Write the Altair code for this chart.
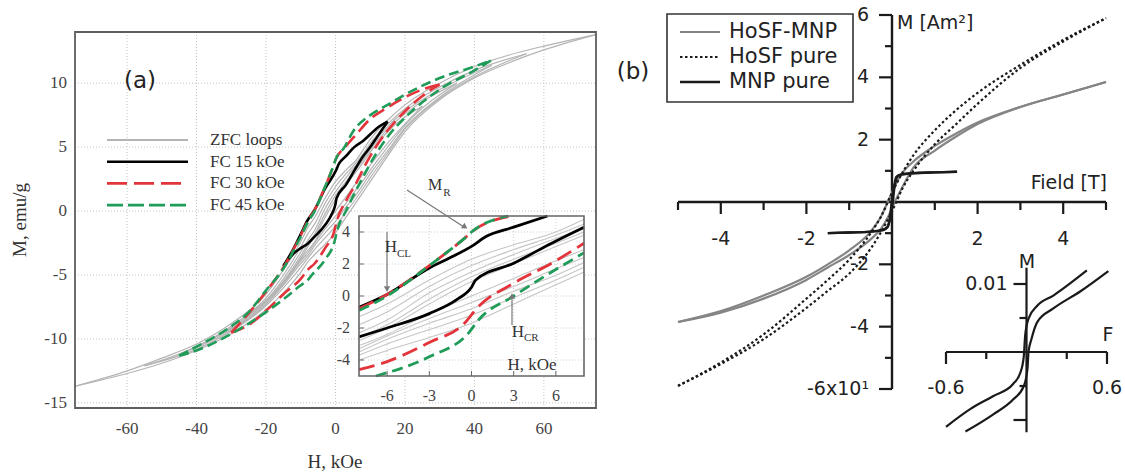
import altair as alt
import pandas as pd

SERIF = "Liberation Serif"
SANS = "DejaVu Sans"

# ---------------- panel (a): H (kOe) vs M (emu/g) ----------------
SERIES_A = ["ZFC loops", "FC 15 kOe", "FC 30 kOe", "FC 45 kOe"]
A_X_DOMAIN = [-75, 75]
A_Y_DOMAIN = [-15.4, 14]
A_X_TICKS = [-60, -40, -20, 0, 20, 40, 60]
A_Y_TICKS = [-15, -10, -5, 0, 5, 10]
A_IN_X_DOMAIN = [-8, 8]
A_IN_Y_DOMAIN = [-5, 5]
A_IN_X_TICKS = [-6, -3, 0, 3, 6]
A_IN_Y_TICKS = [-4, -2, 0, 2, 4]

# ZFC loops (gray): field grid, descending (upper) and ascending (lower) branches
ZFC75_H = [-75, -60, -50, -40, -30, -20, -15, -10, -8, -6, -3, 0, 3, 6, 8, 10, 15, 20, 30, 40, 50, 60, 75]
ZFC75_UP = [-13.7, -12.5, -11.5, -10.4, -8.8, -6.5, -4.6, -2.4, -1.3, -0.5, 1.0, 2.3, 3.2, 4.0, 4.8, 5.6, 7.1, 8.3, 10.0, 11.3, 12.2, 12.9, 13.8]
ZFC75_LO = [-13.7, -12.7, -11.9, -10.9, -9.6, -7.7, -6.4, -4.8, -4.0, -3.4, -2.6, -1.7, -0.5, 0.7, 1.5, 2.3, 4.3, 6.2, 8.7, 10.4, 11.6, 12.6, 13.8]

ZFC55_H = [-55, -40, -30, -20, -15, -10, -8, -6, -3, 0, 3, 6, 8, 10, 15, 20, 30, 40, 55]
ZFC55_UP = [-12.1, -10.6, -9.0, -6.8, -5.0, -2.8, -1.8, -1.0, 0.6, 1.9, 2.9, 3.8, 4.5, 5.3, 6.8, 8.0, 9.7, 11.0, 12.3]
ZFC55_LO = [-12.1, -10.8, -9.4, -7.4, -6.0, -4.4, -3.7, -3.0, -2.1, -1.2, -0.1, 1.0, 1.8, 2.6, 4.5, 6.4, 8.8, 10.5, 12.3]

ZFC45_H = [-45, -30, -20, -15, -10, -8, -6, -3, 0, 3, 6, 8, 10, 15, 20, 30, 45]
ZFC45_UP = [-11.2, -9.1, -7.0, -5.3, -3.2, -2.3, -1.5, 0.2, 1.5, 2.6, 3.6, 4.2, 5.0, 6.6, 7.8, 9.5, 11.4]
ZFC45_LO = [-11.2, -9.3, -7.3, -5.8, -4.1, -3.5, -2.7, -1.7, -0.8, 0.3, 1.3, 2.1, 2.9, 4.7, 6.5, 8.9, 11.4]

ZFC35_H = [-35, -20, -15, -10, -8, -6, -3, 0, 3, 6, 8, 10, 15, 20, 35]
ZFC35_UP = [-9.9, -7.1, -5.5, -3.5, -2.6, -1.8, -0.2, 1.2, 2.3, 3.3, 4.0, 4.8, 6.4, 7.6, 10.0]
ZFC35_LO = [-9.9, -7.25, -5.7, -3.9, -3.3, -2.5, -1.4, -0.4, 0.6, 1.7, 2.4, 3.2, 5.0, 6.7, 10.0]

ZFC25_H = [-25, -15, -10, -8, -6, -3, 0, 3, 6, 8, 10, 15, 25]
ZFC25_UP = [-8.15, -5.55, -3.7, -2.8, -2.0, -0.5, 0.9, 2.0, 3.1, 3.8, 4.6, 6.2, 8.2]
ZFC25_LO = [-8.15, -5.65, -3.8, -3.1, -2.4, -1.1, 0.0, 1.1, 2.2, 2.9, 3.6, 5.3, 8.2]

# FC 15 kOe (black)
FC15_UP_H = [-15, -12, -10, -8, -6, -3, -1.5, 0, 1, 3, 5.4, 8, 10, 12, 15]
FC15_UP_M = [-4.3, -2.9, -1.8, -0.7, 0.1, 1.75, 2.4, 3.1, 3.7, 4.3, 5.0, 5.5, 6.0, 6.5, 7.0]
FC15_LO_H = [-15, -12, -10, -8, -6, -3, -1, 0, 0.3, 3, 5.7, 8, 10, 12, 15]
FC15_LO_M = [-4.3, -3.3, -2.9, -2.55, -2.0, -1.1, -0.2, 0.55, 1.0, 2.05, 3.3, 4.3, 5.0, 5.8, 7.0]

# FC 30 kOe (red dashed)
FC30_UP_H = [-30, -25, -20, -15, -10, -8, -6, -3, -1.5, -0.5, 0, 2.8, 6, 10, 15, 20, 25, 30]
FC30_UP_M = [-9.5, -8.0, -6.3, -4.4, -1.9, -0.8, 0.1, 1.9, 2.9, 3.6, 4.0, 5.0, 6.0, 7.2, 8.1, 8.9, 9.5, 9.9]
FC30_LO_H = [-30, -25, -20, -15, -10, -8, -6, -3, -0.5, 0.4, 3, 5.7, 8, 10, 15, 20, 25, 30]
FC30_LO_M = [-9.5, -8.9, -7.8, -6.5, -5.3, -4.6, -4.1, -2.9, -1.7, -0.75, 0.8, 2.05, 3.3, 4.3, 6.3, 7.8, 9.0, 9.9]

# FC 45 kOe (green dashed)
FC45_UP_H = [-45, -40, -30, -25, -20, -15, -10, -8, -6, -3, -1.5, -0.5, 0, 2.6, 5, 10, 15, 20, 30, 40, 45]
FC45_UP_M = [-11.3, -10.6, -9.0, -7.9, -6.2, -4.5, -2.0, -0.9, 0.0, 1.9, 2.9, 3.6, 4.0, 5.0, 6.2, 7.5, 8.3, 9.1, 10.4, 11.3, 11.8]
FC45_LO_H = [-45, -40, -30, -20, -15, -10, -8, -6.8, -3, -0.2, 0.5, 3, 5.7, 8, 10, 15, 20, 30, 40, 45]
FC45_LO_M = [-11.3, -10.9, -9.6, -7.9, -6.9, -5.8, -5.4, -5.0, -3.8, -2.3, -1.5, 0.0, 1.5, 2.7, 3.7, 5.8, 7.3, 9.5, 11.0, 11.8]

# ---------------- panel (b): Field (T) vs M (Am^2) ----------------
SERIES_B = ["HoSF-MNP", "HoSF pure", "MNP pure"]
B_X_DOMAIN = [-5, 5]
B_Y_DOMAIN = [-6, 6]
B_X_MAJOR = [-4, -2, 2, 4]
B_X_MAJOR_LAB = ["-4", "-2", "2", "4"]
B_X_MINOR = [-5, -3, -1, 1, 3, 5]
B_Y_MAJOR = [-6, -4, -2, 2, 4, 6]
B_Y_MAJOR_LAB = ["-6x10\u00b9", "-4", "-2", "2", "4", "6"]
B_Y_MINOR = [-5, -3, -1, 1, 3, 5]

HOSFMNP_H = [-5, -4, -3, -2, -1.5, -1, -0.5, -0.25, -0.1, 0, 0.1, 0.25, 0.5, 1, 1.5, 2, 3, 4, 5]
HOSFMNP_UP = [-3.85, -3.5, -3.0, -2.4, -2.0, -1.55, -0.95, -0.45, 0.0, 0.3, 0.6, 0.95, 1.3, 1.8, 2.2, 2.55, 3.05, 3.45, 3.85]
HOSFMNP_LO = [-3.85, -3.55, -3.1, -2.5, -2.1, -1.7, -1.2, -0.85, -0.5, -0.2, 0.1, 0.5, 1.1, 1.65, 2.1, 2.5, 3.05, 3.45, 3.85]

HOSF_H = [-5, -4, -3, -2, -1.5, -1, -0.5, -0.25, 0, 0.25, 0.5, 1, 1.5, 2, 3, 4, 5]
HOSF_UP = [-5.9, -5.15, -4.25, -3.1, -2.5, -1.85, -1.0, -0.45, 0.3, 0.95, 1.5, 2.3, 2.95, 3.5, 4.4, 5.2, 5.9]
HOSF_LO = [-5.9, -5.2, -4.4, -3.4, -2.85, -2.3, -1.5, -0.95, -0.3, 0.45, 1.0, 1.85, 2.5, 3.15, 4.3, 5.15, 5.9]

MNP_UP_H = [-1.5, -1.0, -0.5, -0.25, -0.12, -0.06, -0.03, 0.0, 0.05, 0.1, 0.2, 0.5, 1.0, 1.52]
MNP_UP_M = [-1.0, -0.98, -0.95, -0.9, -0.82, -0.6, -0.3, 0.1, 0.5, 0.8, 0.88, 0.92, 0.95, 0.97]
MNP_LO_H = [-1.5, -1.0, -0.5, -0.2, -0.1, -0.04, 0.02, 0.05, 0.08, 0.15, 0.3, 0.6, 1.0, 1.52]
MNP_LO_M = [-1.0, -0.98, -0.95, -0.9, -0.8, -0.5, 0.0, 0.4, 0.65, 0.85, 0.9, 0.93, 0.95, 0.97]

# inset (b): low-field loop
BI_X_DOMAIN = [-0.6, 0.6]
BI_Y_DOMAIN = [-0.01, 0.01]
BI_X_MAJOR = [-0.6, 0.6]
BI_X_MAJOR_LAB = ["-0.6", "0.6"]
BI_X_MINOR = [-0.3, 0.3]
BI_Y_MAJOR = [-0.01, 0.01]
BI_Y_MINOR = [-0.005, 0.005]
BI_Y_LAB_VAL = [0.01]
BI_Y_LAB = ["0.01"]
BI_YAXIS_EXTENT = [-0.0118, 0.0124]
BI_LEFT_F = [-0.6, -0.42, -0.25, -0.10, -0.045, -0.02, -0.01, 0.015, 0.08, 0.20, 0.45]
BI_LEFT_M = [-0.0110, -0.0084, -0.0065, -0.0047, -0.0030, -0.0006, 0.0024, 0.0049, 0.0068, 0.0083, 0.0120]
BI_RIGHT_F = [-0.455, -0.25, -0.10, -0.02, 0.007, 0.015, 0.037, 0.08, 0.20, 0.40, 0.61]
BI_RIGHT_M = [-0.0117, -0.0092, -0.0070, -0.0050, -0.0025, 0.0, 0.0019, 0.0044, 0.0064, 0.0089, 0.0119]

# ---------------- scales (panel placement on the 1125x474 canvas) ----------------
def S(dom, rng):
    return alt.Scale(domain=dom, range=rng, nice=False, zero=False)

XA = S(A_X_DOMAIN, [75, 596])
YA = S(A_Y_DOMAIN, [408, 32])
XI = S(A_IN_X_DOMAIN, [359, 584])
YI = S(A_IN_Y_DOMAIN, [376, 216])
XB = S(B_X_DOMAIN, [678, 1106])
YB = S(B_Y_DOMAIN, [389, 15])
XJ = S(BI_X_DOMAIN, [946, 1107])
YJ = S(BI_Y_DOMAIN, [420, 284])


def X(f, sc):
    return alt.X(f, type="quantitative", scale=sc, axis=None)


def Y(f, sc):
    return alt.Y(f, type="quantitative", scale=sc, axis=None)


def br(name, H, M):
    return pd.DataFrame({"H": H, "M": M, "id": name})


gray_df = pd.concat([
    br("z75u", ZFC75_H, ZFC75_UP), br("z75l", ZFC75_H, ZFC75_LO),
    br("z55u", ZFC55_H, ZFC55_UP), br("z55l", ZFC55_H, ZFC55_LO),
    br("z45u", ZFC45_H, ZFC45_UP), br("z45l", ZFC45_H, ZFC45_LO),
    br("z35u", ZFC35_H, ZFC35_UP), br("z35l", ZFC35_H, ZFC35_LO),
    br("z25u", ZFC25_H, ZFC25_UP), br("z25l", ZFC25_H, ZFC25_LO),
], ignore_index=True)
fc15_df = pd.concat([br("u", FC15_UP_H, FC15_UP_M), br("l", FC15_LO_H, FC15_LO_M)], ignore_index=True)
fc30_df = pd.concat([br("u", FC30_UP_H, FC30_UP_M), br("l", FC30_LO_H, FC30_LO_M)], ignore_index=True)
fc45_df = pd.concat([br("u", FC45_UP_H, FC45_UP_M), br("l", FC45_LO_H, FC45_LO_M)], ignore_index=True)

hm_df = pd.concat([br("u", HOSFMNP_H, HOSFMNP_UP), br("l", HOSFMNP_H, HOSFMNP_LO)], ignore_index=True)
hs_df = pd.concat([br("u", HOSF_H, HOSF_UP), br("l", HOSF_H, HOSF_LO)], ignore_index=True)
mn_df = pd.concat([br("u", MNP_UP_H, MNP_UP_M), br("l", MNP_LO_H, MNP_LO_M)], ignore_index=True)
bi_df = pd.concat([br("left", BI_LEFT_F, BI_LEFT_M), br("right", BI_RIGHT_F, BI_RIGHT_M)], ignore_index=True)

RED = "#e3343c"
GREEN = "#1f9c58"
GRAY = "#b4b4b4"
STYLE_A = {
    "ZFC loops": dict(color=GRAY, strokeWidth=1.2),
    "FC 15 kOe": dict(color="black", strokeWidth=2.6),
    "FC 30 kOe": dict(color=RED, strokeWidth=2.6, strokeDash=[14, 6]),
    "FC 45 kOe": dict(color=GREEN, strokeWidth=2.6, strokeDash=[10, 5]),
}


def curves(df, sx, sy, style, flt=None):
    c = alt.Chart(df)
    if flt:
        c = c.transform_filter(flt)
    return c.mark_line(interpolate="monotone", **style).encode(x=X("H", sx), y=Y("M", sy), detail="id:N")


# ---------------- panel (a) main ----------------
gridA_v = alt.Chart(pd.DataFrame({"v": A_X_TICKS, "lo": A_Y_DOMAIN[0], "hi": A_Y_DOMAIN[1]})).mark_rule(
    color="#c4c4c4", strokeDash=[1, 2], strokeWidth=1).encode(x=X("v", XA), y=Y("lo", YA), y2="hi")
gridA_h = alt.Chart(pd.DataFrame({"v": A_Y_TICKS, "lo": A_X_DOMAIN[0], "hi": A_X_DOMAIN[1]})).mark_rule(
    color="#c4c4c4", strokeDash=[1, 2], strokeWidth=1).encode(y=Y("v", YA), x=X("lo", XA), x2="hi")
frameA = alt.Chart(pd.DataFrame({"x0": [A_X_DOMAIN[0]], "x1": [A_X_DOMAIN[1]], "y0": [A_Y_DOMAIN[0]], "y1": [A_Y_DOMAIN[1]]})).mark_rect(
    fill="transparent", stroke="#5e5e5e", strokeWidth=1.8).encode(x=X("x0", XA), x2="x1", y=Y("y0", YA), y2="y1")
ylabA = alt.Chart(pd.DataFrame({"v": A_Y_TICKS, "lab": [str(v) for v in A_Y_TICKS], "x": A_X_DOMAIN[0]})).mark_text(
    align="right", baseline="middle", dx=-8, font=SERIF, fontSize=17, color="#444").encode(
    x=X("x", XA), y=Y("v", YA), text="lab:N")
xlabA = alt.Chart(pd.DataFrame({"v": A_X_TICKS, "lab": [str(v) for v in A_X_TICKS], "y": A_Y_DOMAIN[0]})).mark_text(
    align="center", baseline="middle", dy=21, font=SERIF, fontSize=17, color="#444").encode(
    x=X("v", XA), y=Y("y", YA), text="lab:N")

panelA = alt.layer(
    gridA_v, gridA_h,
    curves(gray_df, XA, YA, STYLE_A["ZFC loops"]),
    curves(fc15_df, XA, YA, STYLE_A["FC 15 kOe"]),
    curves(fc30_df, XA, YA, STYLE_A["FC 30 kOe"]),
    curves(fc45_df, XA, YA, STYLE_A["FC 45 kOe"]),
    frameA, ylabA, xlabA,
)

# ---------------- panel (a) inset ----------------
IN_FILTER = "datum.H >= -8 && datum.H <= 8 && datum.M >= -5 && datum.M <= 5"
box_in = pd.DataFrame({"x0": [A_IN_X_DOMAIN[0]], "x1": [A_IN_X_DOMAIN[1]], "y0": [A_IN_Y_DOMAIN[0]], "y1": [A_IN_Y_DOMAIN[1]]})
bgI = alt.Chart(box_in).mark_rect(fill="white", strokeWidth=0).encode(x=X("x0", XI), x2="x1", y=Y("y0", YI), y2="y1")
frameI = alt.Chart(box_in).mark_rect(fill="transparent", stroke="#666", strokeWidth=1.6).encode(
    x=X("x0", XI), x2="x1", y=Y("y0", YI), y2="y1")
gridI_v = alt.Chart(pd.DataFrame({"v": A_IN_X_TICKS, "lo": A_IN_Y_DOMAIN[0], "hi": A_IN_Y_DOMAIN[1]})).mark_rule(
    color="#d0d0d0", strokeDash=[1, 2], strokeWidth=1).encode(x=X("v", XI), y=Y("lo", YI), y2="hi")
gridI_h = alt.Chart(pd.DataFrame({"v": A_IN_Y_TICKS, "lo": A_IN_X_DOMAIN[0], "hi": A_IN_X_DOMAIN[1]})).mark_rule(
    color="#d0d0d0", strokeDash=[1, 2], strokeWidth=1).encode(y=Y("v", YI), x=X("lo", XI), x2="hi")
tickI_x = alt.Chart(pd.DataFrame({"v": A_IN_X_TICKS, "b": A_IN_Y_DOMAIN[0]})).mark_rule(
    color="#666", strokeWidth=1, y2Offset=-5).encode(x=X("v", XI), y=Y("b", YI), y2="b")
tickI_y = alt.Chart(pd.DataFrame({"v": A_IN_Y_TICKS, "l": A_IN_X_DOMAIN[0]})).mark_rule(
    color="#666", strokeWidth=1, x2Offset=5).encode(y=Y("v", YI), x=X("l", XI), x2="l")
ylabI = alt.Chart(pd.DataFrame({"v": A_IN_Y_TICKS, "lab": [str(v) for v in A_IN_Y_TICKS], "x": A_IN_X_DOMAIN[0]})).mark_text(
    align="right", baseline="middle", dx=-9, font=SERIF, fontSize=16, color="#444").encode(
    x=X("x", XI), y=Y("v", YI), text="lab:N")
xlabI = alt.Chart(pd.DataFrame({"v": A_IN_X_TICKS, "lab": [str(v) for v in A_IN_X_TICKS], "y": A_IN_Y_DOMAIN[0]})).mark_text(
    align="center", baseline="middle", dy=20, font=SERIF, fontSize=16, color="#444").encode(
    x=X("v", XI), y=Y("y", YI), text="lab:N")

insetA = alt.layer(
    bgI, gridI_v, gridI_h,
    curves(gray_df, XI, YI, dict(color="#c6c6c6", strokeWidth=1.1), IN_FILTER),
    curves(fc15_df, XI, YI, dict(color="black", strokeWidth=2.8), IN_FILTER),
    curves(fc30_df, XI, YI, dict(color=RED, strokeWidth=2.8, strokeDash=[16, 7]), IN_FILTER),
    curves(fc45_df, XI, YI, dict(color=GREEN, strokeWidth=2.8, strokeDash=[11, 6]), IN_FILTER),
    tickI_x, tickI_y, frameI, ylabI, xlabI,
)

# ---------------- panel (b) ----------------
B_INK = "#1a1a1a"
axB_x = alt.Chart(pd.DataFrame({"a": [B_X_DOMAIN[0]], "b": [B_X_DOMAIN[1]], "z": [0]})).mark_rule(
    color=B_INK, strokeWidth=2.4).encode(x=X("a", XB), x2="b", y=Y("z", YB))
axB_y = alt.Chart(pd.DataFrame({"a": [B_Y_DOMAIN[0]], "b": [B_Y_DOMAIN[1]], "z": [0]})).mark_rule(
    color=B_INK, strokeWidth=2.4).encode(y=Y("a", YB), y2="b", x=X("z", XB))
tB_xM = alt.Chart(pd.DataFrame({"v": B_X_MAJOR, "z": 0})).mark_rule(color=B_INK, strokeWidth=2.2, y2Offset=12).encode(
    x=X("v", XB), y=Y("z", YB), y2="z")
tB_xm = alt.Chart(pd.DataFrame({"v": B_X_MINOR, "z": 0})).mark_rule(color=B_INK, strokeWidth=2.2, y2Offset=8).encode(
    x=X("v", XB), y=Y("z", YB), y2="z")
tB_yM = alt.Chart(pd.DataFrame({"v": B_Y_MAJOR, "z": 0})).mark_rule(color=B_INK, strokeWidth=2.2, x2Offset=-13).encode(
    y=Y("v", YB), x=X("z", XB), x2="z")
tB_ym = alt.Chart(pd.DataFrame({"v": B_Y_MINOR, "z": 0})).mark_rule(color=B_INK, strokeWidth=2.2, x2Offset=-7).encode(
    y=Y("v", YB), x=X("z", XB), x2="z")
lB_x = alt.Chart(pd.DataFrame({"v": B_X_MAJOR, "lab": B_X_MAJOR_LAB, "z": 0})).mark_text(
    align="center", baseline="middle", dy=37, font=SANS, fontSize=19, color="#222").encode(
    x=X("v", XB), y=Y("z", YB), text="lab:N")
lB_y = alt.Chart(pd.DataFrame({"v": B_Y_MAJOR, "lab": B_Y_MAJOR_LAB, "z": 0})).mark_text(
    align="right", baseline="middle", dx=-23, font=SANS, fontSize=19, color="#222").encode(
    x=X("z", XB), y=Y("v", YB), text="lab:N")

STYLE_B = {
    "HoSF-MNP": dict(color="#858585", strokeWidth=2.2),
    "HoSF pure": dict(color=B_INK, strokeWidth=2.2, strokeDash=[2.5, 2.5]),
    "MNP pure": dict(color=B_INK, strokeWidth=2.4),
}

panelB = alt.layer(
    lB_x, lB_y, axB_x, axB_y, tB_xM, tB_xm, tB_yM, tB_ym,
    curves(hm_df, XB, YB, STYLE_B["HoSF-MNP"]),
    curves(hs_df, XB, YB, STYLE_B["HoSF pure"]),
    curves(mn_df, XB, YB, STYLE_B["MNP pure"]),
)

# ---------------- panel (b) inset ----------------
axJ_x = alt.Chart(pd.DataFrame({"a": [BI_X_DOMAIN[0]], "b": [BI_X_DOMAIN[1]], "z": [0]})).mark_rule(
    color=B_INK, strokeWidth=2.2).encode(x=X("a", XJ), x2="b", y=Y("z", YJ))
axJ_y = alt.Chart(pd.DataFrame({"a": [BI_YAXIS_EXTENT[0]], "b": [BI_YAXIS_EXTENT[1]], "z": [0]})).mark_rule(
    color=B_INK, strokeWidth=2.2).encode(y=Y("a", YJ), y2="b", x=X("z", XJ))
tJ_xM = alt.Chart(pd.DataFrame({"v": BI_X_MAJOR, "z": 0})).mark_rule(color=B_INK, strokeWidth=2.2, y2Offset=12).encode(
    x=X("v", XJ), y=Y("z", YJ), y2="z")
tJ_xm = alt.Chart(pd.DataFrame({"v": BI_X_MINOR, "z": 0})).mark_rule(color=B_INK, strokeWidth=2.2, y2Offset=7).encode(
    x=X("v", XJ), y=Y("z", YJ), y2="z")
tJ_yM = alt.Chart(pd.DataFrame({"v": BI_Y_MAJOR, "z": 0})).mark_rule(color=B_INK, strokeWidth=2.2, x2Offset=-13).encode(
    y=Y("v", YJ), x=X("z", XJ), x2="z")
tJ_ym = alt.Chart(pd.DataFrame({"v": BI_Y_MINOR, "z": 0})).mark_rule(color=B_INK, strokeWidth=2.2, x2Offset=-7).encode(
    y=Y("v", YJ), x=X("z", XJ), x2="z")
lJ_x = alt.Chart(pd.DataFrame({"v": BI_X_MAJOR, "lab": BI_X_MAJOR_LAB, "z": 0})).mark_text(
    align="center", baseline="middle", dy=36, font=SANS, fontSize=19, color="#222").encode(
    x=X("v", XJ), y=Y("z", YJ), text="lab:N")
lJ_y = alt.Chart(pd.DataFrame({"v": BI_Y_LAB_VAL, "lab": BI_Y_LAB, "z": 0})).mark_text(
    align="right", baseline="middle", dx=-19, font=SANS, fontSize=19, color="#222").encode(
    x=X("z", XJ), y=Y("v", YJ), text="lab:N")

insetB = alt.layer(
    axJ_x, axJ_y, tJ_xM, tJ_xm, tJ_yM, tJ_ym, lJ_x, lJ_y,
    curves(bi_df, XJ, YJ, dict(color=B_INK, strokeWidth=2.2)),
)

# ---------------- decorations: titles, legends, annotations ----------------
ONE = pd.DataFrame({"k": [0]})


def txt(s, x, y, size, font=SANS, align="center", color="#222", angle=None):
    kw = dict(text=s, align=align, baseline="middle", fontSize=size, font=font, color=color)
    if angle is not None:
        kw["angle"] = angle
    return alt.Chart(ONE).mark_text(**kw).encode(x=alt.value(x), y=alt.value(y))


def seg(x1, y1, x2, y2, **style):
    return alt.Chart(ONE).mark_rule(**style).encode(
        x=alt.value(x1), y=alt.value(y1), x2=alt.value(x2), y2=alt.value(y2))


def tri(x, y, shape, angle=0, size=45, color="#777"):
    return alt.Chart(ONE).mark_point(shape=shape, filled=True, size=size, color=color, opacity=1,
                                     angle=angle, strokeWidth=0).encode(x=alt.value(x), y=alt.value(y))


deco = [
    txt("(a)", 140, 81, 23),
    txt("M, emu/g", 20, 220, 19, font=SERIF, color="#333", angle=270),
    txt("H, kOe", 335, 462, 19, font=SERIF, color="#333"),
    txt("H, kOe", 532, 365, 17, font=SERIF, color="#333"),
    # M_R annotation
    seg(407, 190, 464, 227, color="#777", strokeWidth=1.2),
    tri(465, 227, "triangle-right", angle=33, size=40),
    txt("M", 435, 185, 16, font=SERIF, color="#333"),
    txt("R", 447, 193, 11, font=SERIF, color="#333"),
    # H_CL annotation
    seg(387, 232, 387, 286, color="#777", strokeWidth=1.2),
    tri(387, 289, "triangle-down", size=40),
    txt("H", 391, 247, 17, font=SERIF, color="#333"),
    txt("CL", 397, 254, 11, font=SERIF, color="#333", align="left"),
    # H_CR annotation
    seg(512, 325, 512, 299, color="#777", strokeWidth=1.2),
    tri(512, 296, "triangle-up", size=40),
    txt("H", 518, 332, 17, font=SERIF, color="#333"),
    txt("CR", 524, 338, 11, font=SERIF, color="#333", align="left"),
]

# legend (a)
LEG_A_SAMPLE_DASH = {"FC 30 kOe": [20, 7], "FC 45 kOe": [16, 5]}
for i, name in enumerate(SERIES_A):
    y = 140 + i * 21.7
    st = dict(STYLE_A[name])
    st["strokeWidth"] = 2.6 if name != "ZFC loops" else 2.0
    if name in LEG_A_SAMPLE_DASH:
        st["strokeDash"] = LEG_A_SAMPLE_DASH[name]
    deco.append(seg(107, y, 188, y, **st))
    deco.append(txt(name, 210, y, 17, font=SERIF, align="left", color="#333"))

# panel (b) texts and legend
deco += [
    txt("(b)", 633, 72, 23),
    txt("M [Am\u00b2]", 897, 23, 19, align="left"),
    txt("Field [T]", 1107, 183, 19, align="right"),
    txt("M", 1027, 262, 19),
    txt("F", 1108, 335, 19),
    alt.Chart(ONE).mark_rect(fill="white", stroke="#333", strokeWidth=1.6).encode(
        x=alt.value(667), x2=alt.value(853), y=alt.value(14), y2=alt.value(102)),
]
for i, name in enumerate(SERIES_B):
    y = 32 + i * 25
    deco.append(seg(680, y, 720, y, **STYLE_B[name]))
    deco.append(txt(name, 729, y, 21, align="left"))

chart = alt.layer(panelA, insetA, panelB, insetB, *deco).resolve_scale(
    x="independent", y="independent"
).properties(
    width=1125, height=474, autosize=alt.AutoSizeParams(type="none"), padding=0, background="white"
).configure_view(stroke=None)

chart.save("out.html", embed_options={"renderer": "svg", "actions": False})
